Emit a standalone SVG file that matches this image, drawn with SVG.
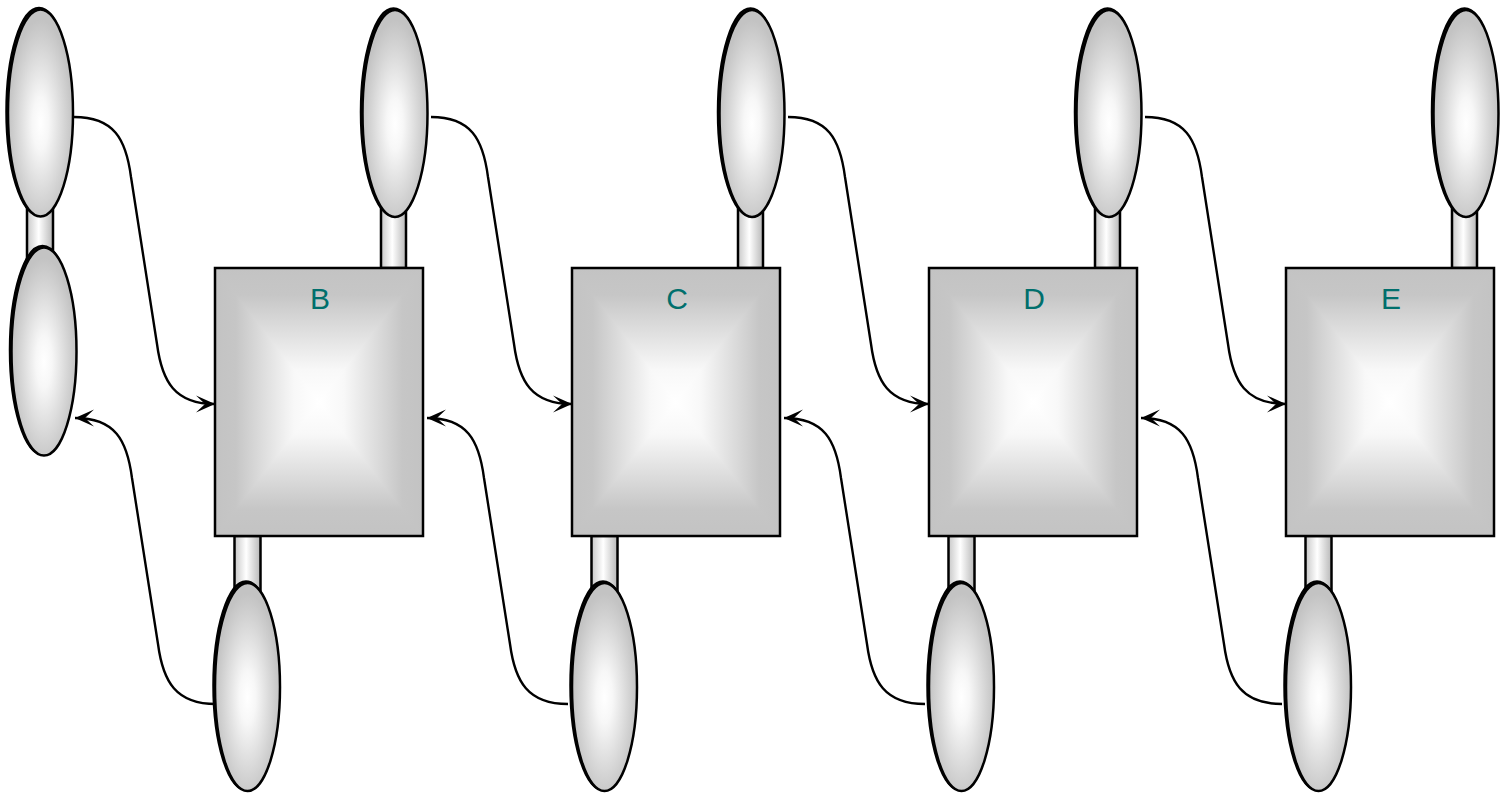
<svg xmlns="http://www.w3.org/2000/svg" width="1506" height="795" viewBox="0 0 1506 795">
<style>
.edge{fill:none;stroke:#000;stroke-width:2.4}
.out{fill:none;stroke:#000;stroke-width:2.5}
.lbl{font-family:"Liberation Sans",Arial,sans-serif;font-size:30px;fill:#006f6c;text-anchor:middle}
.stem{fill:url(#gStem);stroke:#000;stroke-width:2.5}
</style>
<defs>
<radialGradient id="gEll" cx="0.5" cy="0.55" r="0.5" fx="0.5" fy="0.55">
<stop offset="0" stop-color="#ffffff"/>
<stop offset="0.25" stop-color="#f7f7f7"/>
<stop offset="0.75" stop-color="#d4d4d4"/>
<stop offset="1" stop-color="#c3c3c3"/>
</radialGradient>
<linearGradient id="gStem" x1="0" y1="0" x2="1" y2="0">
<stop offset="0" stop-color="#c8c8c8"/>
<stop offset="0.45" stop-color="#ffffff"/>
<stop offset="1" stop-color="#b8b8b8"/>
</linearGradient>
<linearGradient id="gBoxH" x1="0" y1="0" x2="1" y2="0">
<stop offset="0" stop-color="#c3c3c3"/>
<stop offset="0.1" stop-color="#c6c6c6"/>
<stop offset="0.38" stop-color="#f8f8f8"/>
<stop offset="0.5" stop-color="#ffffff"/>
<stop offset="0.62" stop-color="#f8f8f8"/>
<stop offset="0.9" stop-color="#c6c6c6"/>
<stop offset="1" stop-color="#c3c3c3"/>
</linearGradient>
<linearGradient id="gBoxT" x1="0" y1="0" x2="0" y2="1">
<stop offset="0" stop-color="#c3c3c3"/>
<stop offset="0.2" stop-color="#c6c6c6"/>
<stop offset="0.76" stop-color="#f8f8f8"/>
<stop offset="1" stop-color="#ffffff"/>
</linearGradient>
<linearGradient id="gBoxB" x1="0" y1="1" x2="0" y2="0">
<stop offset="0" stop-color="#c3c3c3"/>
<stop offset="0.2" stop-color="#c6c6c6"/>
<stop offset="0.76" stop-color="#f8f8f8"/>
<stop offset="1" stop-color="#ffffff"/>
</linearGradient>
<g id="boxShape">
<rect x="0" y="0" width="208" height="268" fill="url(#gBoxH)"/>
<polygon points="0,0 208,0 104,134" fill="url(#gBoxT)"/>
<polygon points="0,268 208,268 104,134" fill="url(#gBoxB)"/>
<rect x="0" y="0" width="208" height="268" class="out"/>
</g>
<g id="ellTop">
<ellipse cx="-1.5" cy="-1.5" rx="32.5" ry="103.5" class="out"/>
<ellipse cx="0" cy="0" rx="32.5" ry="103.5" fill="url(#gEll)" stroke="#000" stroke-width="2.5"/>
</g>
<g id="ellBot">
<ellipse cx="-1.5" cy="-1.5" rx="32.5" ry="104" class="out"/>
<ellipse cx="0" cy="0" rx="32.5" ry="104" fill="url(#gEll)" stroke="#000" stroke-width="2.5"/>
</g>
<marker id="arr" markerUnits="userSpaceOnUse" markerWidth="24" markerHeight="24" refX="20" refY="10" orient="auto-start-reverse">
<path d="M20,10 L1,1.5 L10,10 L1,18.5 Z" fill="#000"/>
</marker>
</defs>

<g id="left-pair">
<rect x="27" y="200" width="26" height="60" class="stem"/>
<use href="#ellTop" transform="translate(40.5,113)"/>
<use href="#ellBot" transform="translate(44,351.5)"/>
</g>

<g id="node-B">
<rect x="381" y="190" width="25" height="78" class="stem"/>
<rect x="234.5" y="536" width="26" height="70" class="stem"/>
<use href="#boxShape" transform="translate(215,268)"/>
<text x="320" y="309" class="lbl">B</text>
<use href="#ellTop" transform="translate(395,113.5)"/>
<use href="#ellBot" transform="translate(247.5,687)"/>
</g>

<g id="node-C">
<rect x="738" y="190" width="25" height="78" class="stem"/>
<rect x="591.5" y="536" width="26" height="70" class="stem"/>
<use href="#boxShape" transform="translate(572,268)"/>
<text x="677" y="309" class="lbl">C</text>
<use href="#ellTop" transform="translate(752,113.5)"/>
<use href="#ellBot" transform="translate(604.5,687)"/>
</g>

<g id="node-D">
<rect x="1095" y="190" width="25" height="78" class="stem"/>
<rect x="948.5" y="536" width="26" height="70" class="stem"/>
<use href="#boxShape" transform="translate(929,268)"/>
<text x="1034" y="309" class="lbl">D</text>
<use href="#ellTop" transform="translate(1109,113.5)"/>
<use href="#ellBot" transform="translate(961.5,687)"/>
</g>

<g id="node-E">
<rect x="1452" y="190" width="25" height="78" class="stem"/>
<rect x="1305.5" y="536" width="26" height="70" class="stem"/>
<use href="#boxShape" transform="translate(1286,268)"/>
<text x="1391" y="309" class="lbl">E</text>
<use href="#ellTop" transform="translate(1466,113.5)"/>
<use href="#ellBot" transform="translate(1318.5,687)"/>
</g>

<g id="connectors">
<path class="edge" marker-end="url(#arr)" transform="translate(74,117)" d="M0,0 C40,0 52,22 57,60 L83,227 C88,265 101,287 141,287"/>
<path class="edge" marker-end="url(#arr)" transform="translate(431,117)" d="M0,0 C40,0 52,22 57,60 L83,227 C88,265 101,287 141,287"/>
<path class="edge" marker-end="url(#arr)" transform="translate(788,117)" d="M0,0 C40,0 52,22 57,60 L83,227 C88,265 101,287 141,287"/>
<path class="edge" marker-end="url(#arr)" transform="translate(1145,117)" d="M0,0 C40,0 52,22 57,60 L83,227 C88,265 101,287 141,287"/>
<path class="edge" marker-start="url(#arr)" transform="translate(75,418)" d="M0,0 C40,0 52,22 57,60 L83,226 C88,264 101,286 141,286"/>
<path class="edge" marker-start="url(#arr)" transform="translate(427,418)" d="M0,0 C40,0 52,22 57,60 L83,226 C88,264 101,286 141,286"/>
<path class="edge" marker-start="url(#arr)" transform="translate(784,418)" d="M0,0 C40,0 52,22 57,60 L83,226 C88,264 101,286 141,286"/>
<path class="edge" marker-start="url(#arr)" transform="translate(1141,418)" d="M0,0 C40,0 52,22 57,60 L83,226 C88,264 101,286 141,286"/>
</g>
</svg>
